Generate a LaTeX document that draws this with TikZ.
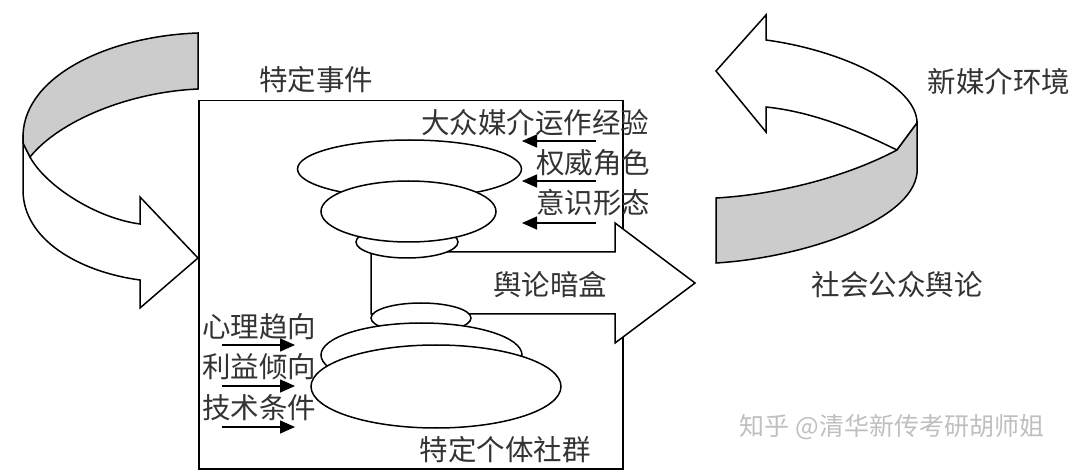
\documentclass[tikz,border=0pt]{standalone}
\usepackage{fontspec}
\newfontfamily\cjk{Noto Sans CJK SC}
\usetikzlibrary{arrows.meta,shapes.geometric}
\begin{document}
\begin{tikzpicture}[x=1pt,y=-1pt,
  line/.style={line width=1.5pt, line join=miter},
  lbl/.style={font=\cjk\fontsize{28.5}{28.5}\selectfont, text=black!80, inner sep=0pt},
  wm/.style={font=\cjk\fontsize{25}{25}\selectfont, text=black!25, inner sep=0pt},
  ell/.style={line, draw=black, fill=white, ellipse, inner sep=0pt},
  sarrow/.style={line, -{Triangle[length=15pt,width=13pt]}},
  band/.style={line, draw=black, fill=black!20},
  ribbon/.style={line, draw=black, fill=white},
]
\useasboundingbox (0,0) rectangle (1080,473);

% left ribbon arrow
\draw[ribbon] (23,135) -- (23,190) .. controls (23,240) and (80,272) .. (140,280)
  -- (140,308) -- (198,258) -- (140,197) -- (140,224)
  .. controls (95,218) and (45,185) .. (30,157) -- (23,143) -- cycle;
\draw[band] (198,33) .. controls (110,36) and (25,75) .. (23,135) -- (23,143) -- (30,157)
  .. controls (60,120) and (130,92) .. (198,89) -- cycle;

% right ribbon arrow
\draw[ribbon] (766,40) .. controls (840,50) and (917,85) .. (917,123) -- (897,150)
  .. controls (860,132) and (815,112) .. (766,107) -- (766,132) -- (716,71) -- (766,15) -- cycle;
\draw[band] (716,198) .. controls (770,195) and (840,180) .. (897,150) -- (917,123) -- (917,173)
  .. controls (912,222) and (800,258) .. (716,263) -- cycle;

% frame
\node[draw, line, minimum width=424pt, minimum height=368pt, inner sep=0pt, anchor=north west] (frame) at (198,100) {};

% big arrow
\draw[line, fill=white] (371,252) -- (615,252) -- (615,223) -- (695,283) -- (615,343) -- (615,314) -- (371,314) -- cycle;

% upper stack
\node[ell, minimum width=224pt, minimum height=58pt] (eA) at (409.5,169) {};
\node[ell, minimum width=102pt, minimum height=32pt] (eC) at (407,242) {};
\node[ell, minimum width=175pt, minimum height=61pt] (eB) at (408.5,211.5) {};

% lower stack
\node[ell, minimum width=100pt, minimum height=30pt] (eD) at (421,318) {};
\node[ell, minimum width=201pt, minimum height=64pt] (eE) at (421.5,355) {};
\node[ell, minimum width=250pt, minimum height=83pt] (eF) at (436,386.5) {};

% small arrows (upper right)
\coordinate (a1s) at (596,141); \coordinate (a1e) at (522,141);
\coordinate (a2s) at (596,181); \coordinate (a2e) at (522,181);
\coordinate (a3s) at (596,223); \coordinate (a3e) at (522,223);
\draw[sarrow] (a1s) -- (a1e);
\draw[sarrow] (a2s) -- (a2e);
\draw[sarrow] (a3s) -- (a3e);

% small arrows (lower left)
\coordinate (b1s) at (222,345); \coordinate (b1e) at (295,345);
\coordinate (b2s) at (222,386); \coordinate (b2e) at (295,386);
\coordinate (b3s) at (222,427); \coordinate (b3e) at (295,427);
\draw[sarrow] (b1s) -- (b1e);
\draw[sarrow] (b2s) -- (b2e);
\draw[sarrow] (b3s) -- (b3e);

% labels
\node[lbl] (evt) at (316,80) {特定事件};
\node[lbl] (mass) at (535,123) {大众媒介运作经验};
\node[lbl] (auth) at (593,163) {权威角色};
\node[lbl] (ideo) at (593,203) {意识形态};
\node[lbl] (bbox) at (550,285) {舆论暗盒};
\node[lbl] (psy) at (259,327) {心理趋向};
\node[lbl] (intr) at (259,367) {利益倾向};
\node[lbl] (tech) at (259,408) {技术条件};
\node[lbl] (grp) at (505,450) {特定个体社群};
\node[lbl] (newm) at (999,82) {新媒介环境};
\node[lbl] (pub) at (897,285) {社会公众舆论};
\node[wm] (mark) at (892,427) {知乎 @清华新传考研胡师姐};
\end{tikzpicture}
\end{document}
